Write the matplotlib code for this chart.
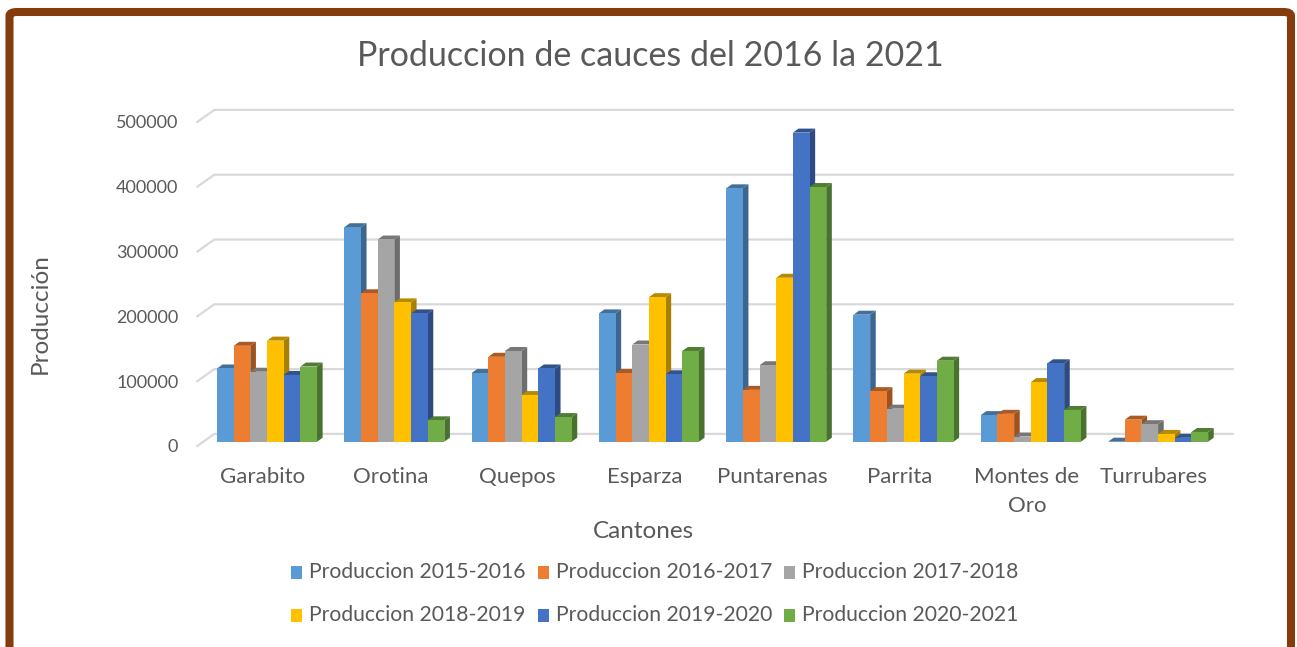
import matplotlib
matplotlib.use("Agg")
import matplotlib.pyplot as plt
import numpy as np
from matplotlib.patches import Polygon, Rectangle, FancyBboxPatch
from matplotlib.transforms import IdentityTransform, ScaledTranslation
from matplotlib.lines import Line2D

plt.rcParams['font.family'] = ['Lato', 'DejaVu Sans']

cantones = ["Garabito", "Orotina", "Quepos", "Esparza", "Puntarenas", "Parrita", "Montes de\nOro", "Turrubares"]
series_names = ["Produccion 2015-2016", "Produccion 2016-2017", "Produccion 2017-2018",
                "Produccion 2018-2019", "Produccion 2019-2020", "Produccion 2020-2021"]
p2015_2016 = [113000, 331000, 106000, 198000, 391000, 196000, 41000, 0]
p2016_2017 = [148000, 229000, 131000, 106000, 80000, 78000, 43000, 34000]
p2017_2018 = [108000, 312000, 140000, 150000, 118000, 51000, 8000, 27000]
p2018_2019 = [156000, 215000, 72000, 223000, 253000, 105000, 92000, 12000]
p2019_2020 = [103000, 198000, 113000, 104000, 477000, 101000, 121000, 6000]
p2020_2021 = [116000, 33000, 38000, 140000, 393000, 125000, 49000, 15000]
series = [p2015_2016, p2016_2017, p2017_2018, p2018_2019, p2019_2020, p2020_2021]
yticks = [0, 100000, 200000, 300000, 400000, 500000]

colors = ["#5B9BD5", "#ED7D31", "#A5A5A5", "#FFC000", "#4472C4", "#70AD47"]
TXT = "#595959"
W, H = 1297, 647

fig = plt.figure(figsize=(W / 100, H / 100), dpi=100)
fig.patch.set_facecolor("white")

# brown frame
frame = FancyBboxPatch((9.5 / W, -20 / H), (1291 - 9.5) / W, (H - 12 + 20) / H,
                       boxstyle="round,pad=0,rounding_size=0.006",
                       transform=fig.transFigure, fill=False,
                       edgecolor="#843C0C", linewidth=5.8, zorder=0)
fig.patches.append(frame)

ax_left, ax_right = 203.35, 1221.75
ax_bot, ax_top = 441.7, 117.7
ax = fig.add_axes([ax_left / W, (H - ax_bot) / H, (ax_right - ax_left) / W, (ax_bot - ax_top) / H])
ax.set_xlim(-0.5, len(cantones) - 0.5)
ax.set_ylim(0, 500000)
ax.set_facecolor("none")
for s in ax.spines.values():
    s.set_visible(False)

def darken(c, f):
    rgb = np.array(matplotlib.colors.to_rgb(c))
    return tuple(rgb * f)

# offsets in display pixels (y up)
front = np.array([-6.0, -4.2])
wall = np.array([11.0, 7.8])
depth = np.array([5.6, 4.0])

T = ax.transData
# gridlines on the back wall
for v in yticks:
    p0 = T.transform((-0.5, v)) + front
    p1 = T.transform((-0.5, v)) + wall
    p2 = T.transform((len(cantones) - 0.5, v)) + wall
    ax.add_line(Line2D([p0[0], p1[0], p2[0]], [p0[1], p1[1], p2[1]], transform=IdentityTransform(),
                       color="#D9D9D9", linewidth=1.6, clip_on=False, zorder=1))

nser = len(series)
group = 0.786
bw = group / nser
x = np.arange(len(cantones))
z = 10
for ci in range(len(cantones)):
    for si in range(nser):
        v = series[si][ci]
        x0 = x[ci] - group / 2 + si * bw
        x1 = x0 + bw
        c = colors[si]
        a0 = T.transform((x0, 0)); a1 = T.transform((x1, v))
        (X0, Y0), (X1, Y1) = a0, a1
        dx, dy = depth
        side = Polygon([(X1, Y0), (X1, Y1), (X1 + dx, Y1 + dy), (X1 + dx, Y0 + dy)], closed=True,
                       transform=IdentityTransform(), facecolor=darken(c, 0.66), edgecolor="none",
                       clip_on=False, zorder=z)
        top = Polygon([(X0, Y1), (X1, Y1), (X1 + dx, Y1 + dy), (X0 + dx, Y1 + dy)], closed=True,
                      transform=IdentityTransform(), facecolor=darken(c, 0.72), edgecolor="none",
                      clip_on=False, zorder=z)
        ax.add_patch(side)
        ax.add_patch(top)
        ax.bar(x0, v, width=bw, align="edge", color=c, edgecolor="none", zorder=z + 0.5)
        z += 1

# ticks
ax.set_yticks(yticks)
ax.set_yticklabels([str(t) for t in yticks])
ax.set_xticks(x)
ax.set_xticklabels(cantones, linespacing=1.6)
ax.tick_params(axis="both", length=0, colors=TXT)
ax.tick_params(axis="y", labelsize=13, pad=18)
ax.tick_params(axis="x", labelsize=16, pad=18)
for lab in ax.get_yticklabels():
    lab.set_transform(lab.get_transform() + ScaledTranslation(0, -4.2 / 100, fig.dpi_scale_trans))
for lab in ax.get_xticklabels():
    lab.set_transform(lab.get_transform() + ScaledTranslation(-4 / 100, 0, fig.dpi_scale_trans))

fig.text(643 / W, 1 - 531 / H, "Cantones", ha="center", va="center", fontsize=17.5, color=TXT)
fig.text(40 / W, 1 - 314 / H, "Producción", ha="center", va="center", rotation=90, fontsize=17.5, color=TXT)
fig.text(650 / W, 1 - 56 / H, "Produccion de cauces del 2016 la 2021", ha="center", va="center",
         fontsize=24.5, color=TXT)

# legend
for i, name in enumerate(series_names):
    row, col = divmod(i, 3)
    lx = 291 + 246.5 * col
    ly = 572 + 43 * row
    fig.patches.append(Rectangle((lx / W, (H - ly - 6.5) / H), 11 / W, 13 / H, transform=fig.transFigure,
                                 facecolor=colors[i], edgecolor="none"))
    fig.text((lx + 18) / W, 1 - ly / H, name, ha="left", va="center", fontsize=15.2, color=TXT)

fig.savefig("out.png", dpi=100)
